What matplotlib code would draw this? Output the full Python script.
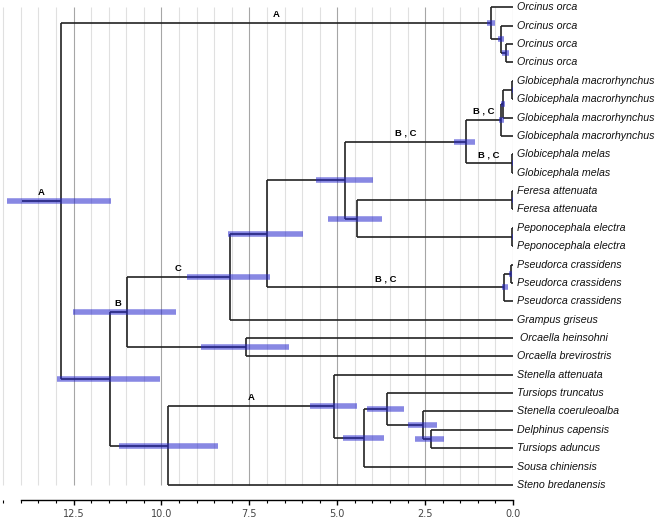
import numpy as np
import matplotlib.pyplot as plt

# Dated tree of delphinids (ages in Myr before present), with 95% HPD bars on the nodes

tipNames = ["Orcinus orca", "Orcinus orca", "Orcinus orca", "Orcinus orca",
            "Globicephala macrorhynchus", "Globicephala macrorhynchus",
            "Globicephala macrorhynchus", "Globicephala macrorhynchus",
            "Globicephala melas", "Globicephala melas",
            "Feresa attenuata", "Feresa attenuata",
            "Peponocephala electra", "Peponocephala electra",
            "Pseudorca crassidens", "Pseudorca crassidens", "Pseudorca crassidens",
            "Grampus griseus", " Orcaella heinsohni", "Orcaella brevirostris",
            "Stenella attenuata", "Tursiops truncatus", "Stenella coeruleoalba",
            "Delphinus capensis", "Tursiops aduncus", "Sousa chiniensis",
            "Steno bredanensis"]

# internal nodes: name, age, hpd low, hpd high, children (int = tip index, str = node name)
nodeNames = ["orca3", "orca2", "orca", "gma45", "gma456", "gma", "gmel", "glob",
             "fer", "pep", "ferpep", "globfer", "pse2", "pse", "n7", "C",
             "orcaella", "B", "del2", "del1", "tur", "sou", "dA", "dol", "n2", "root"]
nodeAges = [0.20, 0.35, 0.63, 0.02, 0.28, 0.33, 0.02, 1.34,
            0.02, 0.02, 4.44, 4.78, 0.06, 0.25, 7.00, 8.04,
            7.59, 10.99, 2.34, 2.55, 3.59, 4.23, 5.09, 9.81, 11.47, 12.86]
hpdLow = [0.11, 0.25, 0.51, 0.00, 0.22, 0.25, 0.00, 1.07,
          0.00, 0.00, 3.74, 3.99, 0.02, 0.13, 5.97, 6.90,
          6.37, 9.58, 1.95, 2.15, 3.10, 3.68, 4.44, 8.39, 10.03, 11.44]
hpdHigh = [0.30, 0.42, 0.75, 0.04, 0.33, 0.40, 0.04, 1.68,
           0.04, 0.04, 5.26, 5.60, 0.10, 0.32, 8.10, 9.27,
           8.89, 12.51, 2.78, 3.00, 4.16, 4.85, 5.77, 11.21, 12.97, 14.40]
nodeChildren = [[2, 3], [1, "orca3"], [0, "orca2"], [4, 5], ["gma45", 6], ["gma456", 7],
                [8, 9], ["gma", "gmel"], [10, 11], [12, 13], ["fer", "pep"],
                ["glob", "ferpep"], [14, 15], ["pse2", 16], ["globfer", "pse"],
                ["n7", 17], [18, 19], ["C", "orcaella"], [23, 24], [22, "del2"],
                [21, "del1"], ["tur", 25], [20, "sou"], ["dA", 26], ["B", "dol"],
                ["orca", "n2"]]
ROOT_STEM_AGE = 13.97

# branch labels, written above the branch leading to that node
branchLabels = {"orca": "A", "root": "A", "B": "B", "C": "C", "glob": "B , C",
                "gma": "B , C", "gmel": "B , C", "pse": "B , C", "dA": "A"}

ageOf = {}
yOf = {}
for i in range(len(tipNames)):
    ageOf[i] = 0.0
    yOf[i] = float(i)
# nodes are listed children-first so y positions can be filled in order
for name, age, kids in zip(nodeNames, nodeAges, nodeChildren):
    ageOf[name] = age
    yOf[name] = np.mean([yOf[k] for k in kids])

fig = plt.figure(figsize=(6.61, 5.23), dpi=100)
ax = fig.add_axes([0, 23/523, 513/661, 500/523])

# background grid every half million years, darker every 2.5
for g in np.arange(0, 14.51, 0.5):
    major = abs(g/2.5 - round(g/2.5)) < 1e-6
    ax.vlines(g, 0, len(tipNames)-1, color="#a6a6a6" if major else "#e0e0e0",
              lw=0.8, zorder=0)

LINE_COL = "#222222"
parentOf = {}
for name, kids in zip(nodeNames, nodeChildren):
    ys = [yOf[k] for k in kids]
    ax.vlines(ageOf[name], min(ys), max(ys), color=LINE_COL, lw=1.2, zorder=2)
    for k in kids:
        parentOf[k] = name
        ax.hlines(yOf[k], ageOf[name], ageOf[k], color=LINE_COL, lw=1.2, zorder=2)
ax.hlines(yOf["root"], ROOT_STEM_AGE, ageOf["root"], color=LINE_COL, lw=1.2, zorder=2)

# HPD bars, drawn translucent over the branches
for name, lo, hi in zip(nodeNames, hpdLow, hpdHigh):
    ax.hlines(yOf[name], hi, lo, color=(0.15, 0.15, 0.8), alpha=0.55, lw=4.0, zorder=3)

for name, lab in branchLabels.items():
    start = parentOf[name] if name in parentOf else None
    x0 = ageOf[start] if start else ROOT_STEM_AGE
    xm = (x0 + ageOf[name]) / 2
    ax.text(xm, yOf[name] - 0.47, lab, ha="center", va="center", fontsize=6.8,
            fontweight="bold", family="Liberation Sans", zorder=4)

for i, tn in enumerate(tipNames):
    ax.annotate(tn, (0, i), xytext=(3, 0), textcoords="offset points",
                ha="left", va="center", fontsize=7.7, style="italic",
                family="Liberation Sans", color="#111111", annotation_clip=False)

ax.set_xlim(14.594, 0)
ax.set_ylim(26.82, -0.40)
for s in ["top", "left", "right"]:
    ax.spines[s].set_visible(False)
ax.spines["bottom"].set_bounds(14.0, 0)
ax.spines["bottom"].set_linewidth(1.0)
ax.set_yticks([])
ax.set_xticks([12.5, 10.0, 7.5, 5.0, 2.5, 0.0])
ax.set_xticklabels(["12.5", "10.0", "7.5", "5.0", "2.5", "0.0"])
ax.set_xticks(np.arange(0, 14.51, 0.5), minor=True)
ax.tick_params(axis="x", which="major", direction="out", length=3.5, width=1.0,
               labelsize=7, labelcolor="#444444", pad=3)
ax.tick_params(axis="x", which="minor", direction="out", length=2, width=0.8)
ax.patch.set_visible(False)

fig.savefig("out.png", dpi=100)
